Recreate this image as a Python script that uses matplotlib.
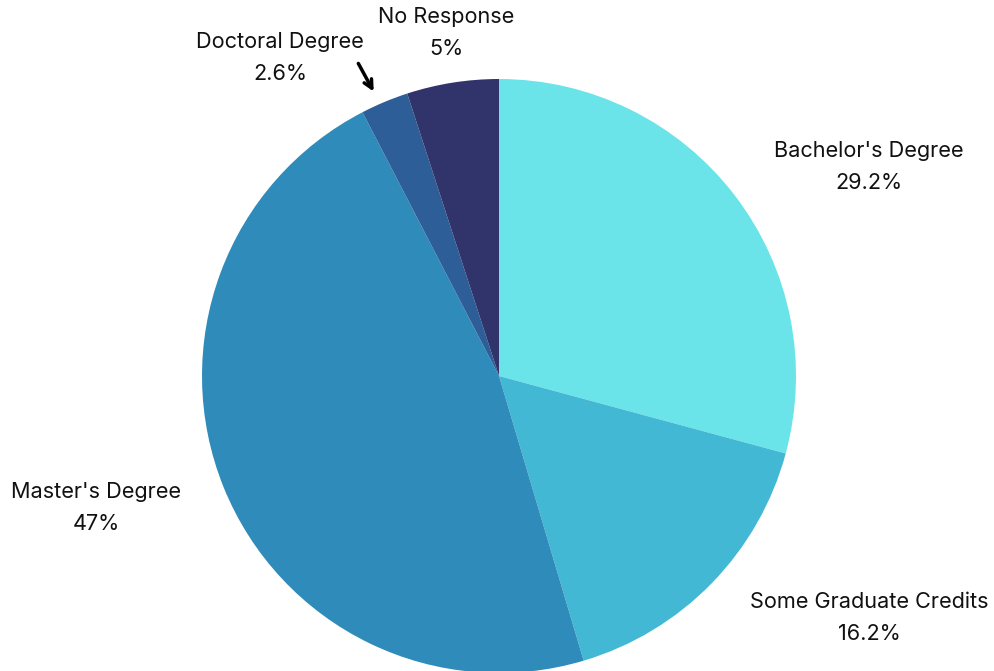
import matplotlib.pyplot as plt

# survey breakdown by highest education level, clockwise from the top
labels = ["Bachelor's Degree", "Some Graduate Credits", "Master's Degree",
          "Doctoral Degree", "No Response"]
shares = [29.2, 16.2, 47, 2.6, 5]
colors = ["#6ae4e8", "#43b8d5", "#2e8bba", "#2e5e98", "#31346b"]

# where each label's text block is centred (pixel space, y up)
label_pos = [(869, 504), (869, 53), (96, 163), (280, 613), (446, 638)]

plt.rcParams['font.family'] = ['Inter', 'DejaVu Sans']

fig = plt.figure(figsize=(9.95, 6.71), dpi=100)
ax = fig.add_axes([0, 0, 1, 1])

ax.pie(shares, colors=colors, startangle=90, counterclock=False,
       center=(499, 295), radius=297, frame=True,
       wedgeprops=dict(linewidth=0))
ax.set_xlim(0, 995)
ax.set_ylim(0, 671)
ax.set_aspect('equal')
ax.axis('off')

for name, val, (x, y) in zip(labels, shares, label_pos):
    ax.text(x, y, f"{name}\n{val:g}%", ha='center', va='center',
            fontsize=15.6, color='#111111', linespacing=1.8)

# little pointer for the thin doctoral slice
ax.annotate("", xy=(375, 577), xytext=(357, 610),
            arrowprops=dict(arrowstyle='->', color='black', lw=2.5,
                            mutation_scale=15))

fig.savefig('out.png', dpi=100)
